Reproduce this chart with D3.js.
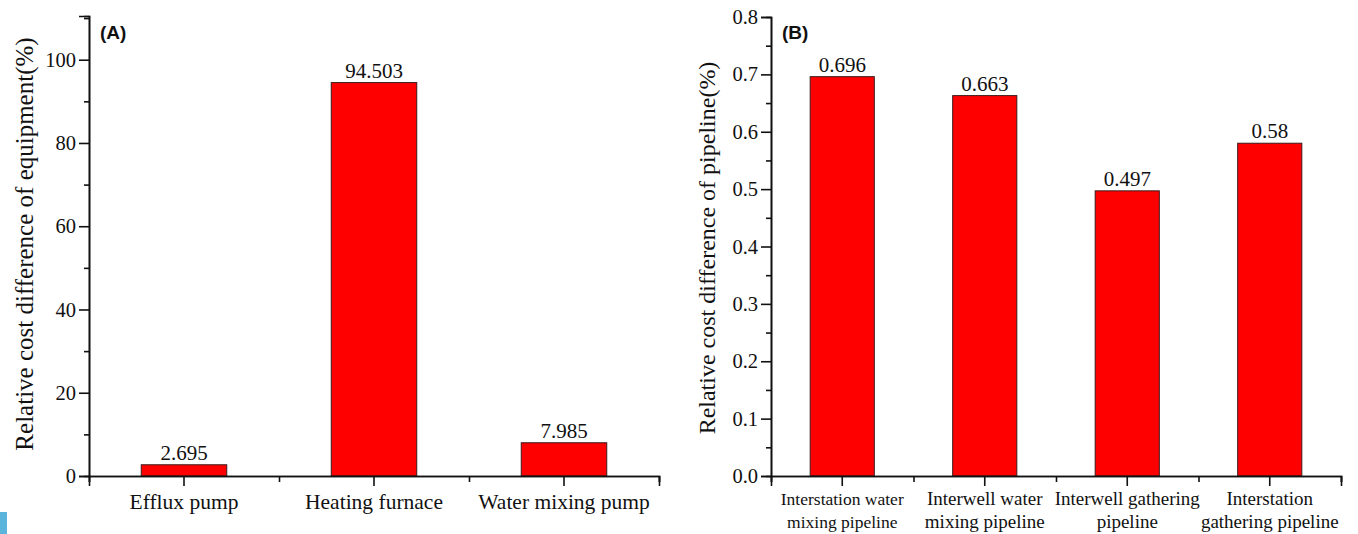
<!DOCTYPE html>
<html><head><meta charset="utf-8">
<script src="https://cdn.jsdelivr.net/npm/d3@7"></script>
<style>
html,body{margin:0;padding:0;background:#fff;}
svg{display:block;}
</style></head>
<body><svg id="chart" width="1358" height="534"></svg>
<script>
// ---- data ----
const equipCategories = ["Efflux pump", "Heating furnace", "Water mixing pump"];
const equipValues = [2.695, 94.503, 7.985];
const equipLabels = ["2.695", "94.503", "7.985"];
const equipTicks = [0, 20, 40, 60, 80, 100];
const equipMinorTicks = [10, 30, 50, 70, 90, 110];

const pipeCategories = [
  ["Interstation water", "mixing pipeline"],
  ["Interwell water", "mixing pipeline"],
  ["Interwell gathering", "pipeline"],
  ["Interstation", "gathering pipeline"]
];
const pipeValues = [0.696, 0.663, 0.497, 0.58];
const pipeLabels = ["0.696", "0.663", "0.497", "0.58"];
const pipeTicks = [0.0, 0.1, 0.2, 0.3, 0.4, 0.5, 0.6, 0.7, 0.8];
const pipeMinorTicks = [0.05, 0.15, 0.25, 0.35, 0.45, 0.55, 0.65, 0.75];

const SERIF = "'Liberation Serif', 'Times New Roman', Times, serif";
const SANS = "'Liberation Sans', Arial, Helvetica, sans-serif";

const svg = d3.select("#chart");

// decorative marker at bottom-left (present in reference)
svg.append("rect").attr("x", 0).attr("y", 512).attr("width", 7).attr("height", 22).attr("fill", "#5ab4dc");

function panel(opts) {
  const g = svg.append("g").style("font-family", SERIF);
  const {x0, x1, yTop, yBot, cats, vals, labels, ticks, minor, yMax, tickFmt, title, titleX, titleY, titleSize, tag, catFont} = opts;
  const x = d3.scaleBand().domain(d3.range(cats.length)).range([x0, x1]).paddingInner(0.55).paddingOuter(0.275);
  const xb = d3.scaleLinear().domain([0, cats.length]).range([x0, x1]);
  const y = d3.scaleLinear().domain([0, yMax]).range([yBot, yTop]);

  // bars
  g.selectAll("rect.bar").data(vals).enter().append("rect")
    .attr("x", (d, i) => x(i)).attr("width", x.bandwidth())
    .attr("y", d => y(d)).attr("height", d => y(0) - y(d))
    .attr("fill", "#ff0000").attr("stroke", "#3a1a1a").attr("stroke-width", 1);

  // value labels
  g.selectAll("text.val").data(vals).enter().append("text")
    .style("font-family", SERIF).attr("x", (d, i) => x(i) + x.bandwidth() / 2)
    .attr("y", d => y(d) - 5).attr("text-anchor", "middle")
    .style("font-size", "21px").attr("fill", "#111").text((d, i) => labels[i]);

  // y axis minor
  const yMinor = g.append("g").attr("transform", `translate(${x0},0)`)
    .call(d3.axisLeft(y).tickValues(minor.filter(v => v <= yMax)).tickSize(5).tickFormat(""));
  // y axis major
  const yAx = g.append("g").attr("transform", `translate(${x0},0)`)
    .call(d3.axisLeft(y).tickValues(ticks).tickSize(10).tickPadding(3).tickFormat(tickFmt));
  // x boundary ticks
  const xbAx = g.append("g").attr("transform", `translate(0,${yBot})`)
    .call(d3.axisBottom(xb).tickValues(d3.range(cats.length + 1)).tickSize(6).tickFormat(""));
  // x center ticks
  const xAx = g.append("g").attr("transform", `translate(0,${yBot})`)
    .call(d3.axisBottom(x).tickSize(10).tickFormat(""));

  [yMinor, yAx, xbAx, xAx].forEach(a => {
    a.select(".domain").attr("stroke", "#111").attr("stroke-width", 1.6);
    a.selectAll(".tick line").attr("stroke", "#111").attr("stroke-width", 1.6);
  });
  yAx.attr("font-family", null).attr("font-size", null);
  yAx.selectAll(".tick text").style("font-family", SERIF).style("font-size", "20.5px").attr("fill", "#111");

  // category labels
  cats.forEach((c, i) => {
    const lines = Array.isArray(c) ? c : [c];
    const fs = catFont[i];
    const t = g.append("text").style("font-family", SERIF).attr("text-anchor", "middle")
      .style("font-size", fs + "px").attr("fill", "#111");
    lines.forEach((ln, k) => {
      t.append("tspan").attr("x", x(i) + x.bandwidth() / 2)
        .attr("y", (lines.length > 1 ? yBot + 29 : yBot + 33) + k * 23).text(ln);
    });
  });

  // y title
  g.append("text").style("font-family", SERIF)
    .attr("transform", `translate(${titleX},${titleY}) rotate(-90)`)
    .attr("text-anchor", "middle").style("font-size", titleSize + "px").attr("fill", "#111").text(title);

  // panel tag
  g.append("text").attr("x", x0 + 11).attr("y", 39)
    .style("font-family", SANS).attr("font-weight", "bold")
    .style("font-size", "19px").attr("fill", "#111").text(tag);
}

panel({
  x0: 89, x1: 659, yTop: 16, yBot: 476,
  cats: equipCategories, vals: equipValues, labels: equipLabels,
  ticks: equipTicks, minor: equipMinorTicks, yMax: 110.5,
  tickFmt: d3.format("d"),
  title: "Relative cost difference of equipment(%)", titleX: 33, titleY: 244, titleSize: 25, tag: "(A)",
  catFont: [21.5, 21.5, 21.5]
});

panel({
  x0: 771, x1: 1341, yTop: 17, yBot: 476,
  cats: pipeCategories, vals: pipeValues, labels: pipeLabels,
  ticks: pipeTicks, minor: pipeMinorTicks, yMax: 0.8,
  tickFmt: d3.format(".1f"),
  title: "Relative cost difference of pipeline(%)", titleX: 715, titleY: 248, titleSize: 24, tag: "(B)",
  catFont: [17.5, 19, 19, 19]
});
</script></body></html>
